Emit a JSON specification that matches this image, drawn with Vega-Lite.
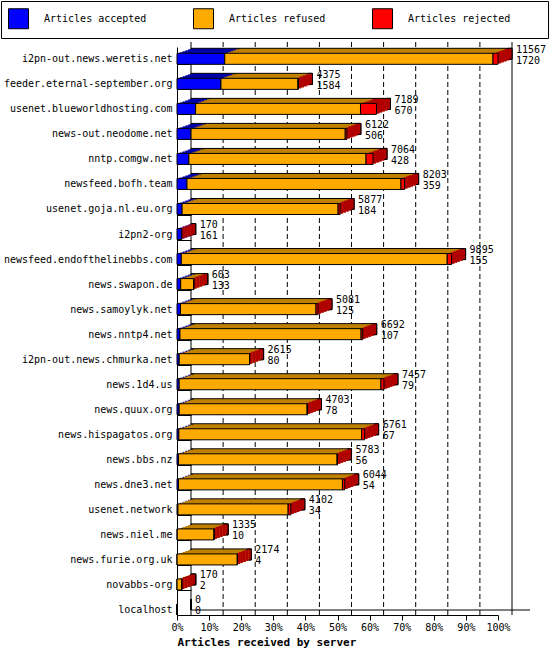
{
  "$schema": "https://vega.github.io/schema/vega-lite/v6.json",
  "autosize": {"type": "none"},
  "width": 321,
  "height": 568,
  "padding": {"left": 177, "top": 47, "right": 52, "bottom": 40},
  "background": "white",
  "datasets": {
    "articles": [
      {"server": "i2pn-out.news.weretis.net", "type": "Articles accepted", "count": 1720},
      {"server": "i2pn-out.news.weretis.net", "type": "Articles refused", "count": 9667},
      {"server": "i2pn-out.news.weretis.net", "type": "Articles rejected", "count": 180},
      {"server": "feeder.eternal-september.org", "type": "Articles accepted", "count": 1584},
      {"server": "feeder.eternal-september.org", "type": "Articles refused", "count": 2776},
      {"server": "feeder.eternal-september.org", "type": "Articles rejected", "count": 15},
      {"server": "usenet.blueworldhosting.com", "type": "Articles accepted", "count": 670},
      {"server": "usenet.blueworldhosting.com", "type": "Articles refused", "count": 5942},
      {"server": "usenet.blueworldhosting.com", "type": "Articles rejected", "count": 577},
      {"server": "news-out.neodome.net", "type": "Articles accepted", "count": 506},
      {"server": "news-out.neodome.net", "type": "Articles refused", "count": 5556},
      {"server": "news-out.neodome.net", "type": "Articles rejected", "count": 60},
      {"server": "nntp.comgw.net", "type": "Articles accepted", "count": 428},
      {"server": "nntp.comgw.net", "type": "Articles refused", "count": 6384},
      {"server": "nntp.comgw.net", "type": "Articles rejected", "count": 252},
      {"server": "newsfeed.bofh.team", "type": "Articles accepted", "count": 359},
      {"server": "newsfeed.bofh.team", "type": "Articles refused", "count": 7711},
      {"server": "newsfeed.bofh.team", "type": "Articles rejected", "count": 133},
      {"server": "usenet.goja.nl.eu.org", "type": "Articles accepted", "count": 184},
      {"server": "usenet.goja.nl.eu.org", "type": "Articles refused", "count": 5621},
      {"server": "usenet.goja.nl.eu.org", "type": "Articles rejected", "count": 72},
      {"server": "i2pn2-org", "type": "Articles accepted", "count": 161},
      {"server": "i2pn2-org", "type": "Articles refused", "count": 5},
      {"server": "i2pn2-org", "type": "Articles rejected", "count": 4},
      {"server": "newsfeed.endofthelinebbs.com", "type": "Articles accepted", "count": 155},
      {"server": "newsfeed.endofthelinebbs.com", "type": "Articles refused", "count": 9582},
      {"server": "newsfeed.endofthelinebbs.com", "type": "Articles rejected", "count": 158},
      {"server": "news.swapon.de", "type": "Articles accepted", "count": 133},
      {"server": "news.swapon.de", "type": "Articles refused", "count": 470},
      {"server": "news.swapon.de", "type": "Articles rejected", "count": 0},
      {"server": "news.samoylyk.net", "type": "Articles accepted", "count": 125},
      {"server": "news.samoylyk.net", "type": "Articles refused", "count": 4884},
      {"server": "news.samoylyk.net", "type": "Articles rejected", "count": 72},
      {"server": "news.nntp4.net", "type": "Articles accepted", "count": 107},
      {"server": "news.nntp4.net", "type": "Articles refused", "count": 6525},
      {"server": "news.nntp4.net", "type": "Articles rejected", "count": 60},
      {"server": "i2pn-out.news.chmurka.net", "type": "Articles accepted", "count": 80},
      {"server": "i2pn-out.news.chmurka.net", "type": "Articles refused", "count": 2535},
      {"server": "i2pn-out.news.chmurka.net", "type": "Articles rejected", "count": 0},
      {"server": "news.1d4.us", "type": "Articles accepted", "count": 79},
      {"server": "news.1d4.us", "type": "Articles refused", "count": 7270},
      {"server": "news.1d4.us", "type": "Articles rejected", "count": 108},
      {"server": "news.quux.org", "type": "Articles accepted", "count": 78},
      {"server": "news.quux.org", "type": "Articles refused", "count": 4610},
      {"server": "news.quux.org", "type": "Articles rejected", "count": 15},
      {"server": "news.hispagatos.org", "type": "Articles accepted", "count": 67},
      {"server": "news.hispagatos.org", "type": "Articles refused", "count": 6586},
      {"server": "news.hispagatos.org", "type": "Articles rejected", "count": 108},
      {"server": "news.bbs.nz", "type": "Articles accepted", "count": 56},
      {"server": "news.bbs.nz", "type": "Articles refused", "count": 5712},
      {"server": "news.bbs.nz", "type": "Articles rejected", "count": 15},
      {"server": "news.dne3.net", "type": "Articles accepted", "count": 54},
      {"server": "news.dne3.net", "type": "Articles refused", "count": 5907},
      {"server": "news.dne3.net", "type": "Articles rejected", "count": 83},
      {"server": "usenet.network", "type": "Articles accepted", "count": 34},
      {"server": "usenet.network", "type": "Articles refused", "count": 3971},
      {"server": "usenet.network", "type": "Articles rejected", "count": 97},
      {"server": "news.niel.me", "type": "Articles accepted", "count": 10},
      {"server": "news.niel.me", "type": "Articles refused", "count": 1325},
      {"server": "news.niel.me", "type": "Articles rejected", "count": 0},
      {"server": "news.furie.org.uk", "type": "Articles accepted", "count": 4},
      {"server": "news.furie.org.uk", "type": "Articles refused", "count": 2170},
      {"server": "news.furie.org.uk", "type": "Articles rejected", "count": 0},
      {"server": "novabbs-org", "type": "Articles accepted", "count": 2},
      {"server": "novabbs-org", "type": "Articles refused", "count": 168},
      {"server": "novabbs-org", "type": "Articles rejected", "count": 0},
      {"server": "localhost", "type": "Articles accepted", "count": 0},
      {"server": "localhost", "type": "Articles refused", "count": 0},
      {"server": "localhost", "type": "Articles rejected", "count": 0}
    ],
    "servers": [
      {"server": "i2pn-out.news.weretis.net", "total": 11567, "accepted": 1720},
      {"server": "feeder.eternal-september.org", "total": 4375, "accepted": 1584},
      {"server": "usenet.blueworldhosting.com", "total": 7189, "accepted": 670},
      {"server": "news-out.neodome.net", "total": 6122, "accepted": 506},
      {"server": "nntp.comgw.net", "total": 7064, "accepted": 428},
      {"server": "newsfeed.bofh.team", "total": 8203, "accepted": 359},
      {"server": "usenet.goja.nl.eu.org", "total": 5877, "accepted": 184},
      {"server": "i2pn2-org", "total": 170, "accepted": 161},
      {"server": "newsfeed.endofthelinebbs.com", "total": 9895, "accepted": 155},
      {"server": "news.swapon.de", "total": 603, "accepted": 133},
      {"server": "news.samoylyk.net", "total": 5081, "accepted": 125},
      {"server": "news.nntp4.net", "total": 6692, "accepted": 107},
      {"server": "i2pn-out.news.chmurka.net", "total": 2615, "accepted": 80},
      {"server": "news.1d4.us", "total": 7457, "accepted": 79},
      {"server": "news.quux.org", "total": 4703, "accepted": 78},
      {"server": "news.hispagatos.org", "total": 6761, "accepted": 67},
      {"server": "news.bbs.nz", "total": 5783, "accepted": 56},
      {"server": "news.dne3.net", "total": 6044, "accepted": 54},
      {"server": "usenet.network", "total": 4102, "accepted": 34},
      {"server": "news.niel.me", "total": 1335, "accepted": 10},
      {"server": "news.furie.org.uk", "total": 2174, "accepted": 4},
      {"server": "novabbs-org", "total": 170, "accepted": 2},
      {"server": "localhost", "total": 0, "accepted": 0}
    ]
  },
  "resolve": {"scale": {"color": "independent"}, "legend": {"color": "independent"}},
  "layer": [
    {
      "data": {"values": [{"v": 0}, {"v": 11567}]},
      "mark": {"type": "rule", "color": "black", "xOffset": 14, "yOffset": -5, "y2Offset": -5},
      "encoding": {"x": {"field": "v", "type": "quantitative", "title": "Articles received by server"}}
    },
    {
      "data": {"values": [{"v": 1156.7}, {"v": 2313.4}, {"v": 3470.1}, {"v": 4626.8}, {"v": 5783.5}, {"v": 6940.2}, {"v": 8096.9}, {"v": 9253.6}, {"v": 10410.3}]},
      "mark": {"type": "rule", "color": "black", "strokeDash": [5, 3], "xOffset": 14, "yOffset": -5, "y2Offset": -5},
      "encoding": {"x": {"field": "v", "type": "quantitative", "title": "Articles received by server"}}
    },
    {
      "data": {"name": "articles"},
      "mark": {"type": "bar", "stroke": "black", "strokeWidth": 1, "xOffset": 14, "x2Offset": 14, "yOffset": -5, "y2Offset": -5},
      "encoding": {
        "y": {"field": "server", "type": "nominal", "sort": null, "title": null},
        "x": {"field": "count", "type": "quantitative", "title": "Articles received by server"},
        "color": {"field": "type", "type": "nominal", "scale": {"domain": ["Articles accepted", "Articles refused", "Articles rejected"], "range": ["#0000a8", "#c08000", "#b00000"]}, "legend": null}
      }
    },
    {
      "data": {"name": "servers"},
      "transform": [{"filter": "datum.total > 0"}],
      "mark": {"type": "bar", "color": "#b00000", "stroke": "black", "strokeWidth": 1, "xOffset": 10, "x2Offset": 14, "yOffset": -5, "y2Offset": -5},
      "encoding": {
        "y": {"field": "server", "type": "nominal", "sort": null, "title": null},
        "x": {"field": "total", "type": "quantitative", "title": "Articles received by server"},
        "x2": {"field": "total"}
      }
    },
    {
      "data": {"name": "articles"},
      "mark": {"type": "bar", "xOffset": 11.2, "x2Offset": 11.2, "yOffset": -4, "y2Offset": -4},
      "encoding": {
        "y": {"field": "server", "type": "nominal", "sort": null, "title": null},
        "x": {"field": "count", "type": "quantitative", "title": "Articles received by server"},
        "color": {"field": "type", "type": "nominal", "scale": {"domain": ["Articles accepted", "Articles refused", "Articles rejected"], "range": ["#0000a8", "#c08000", "#b00000"]}, "legend": null}
      }
    },
    {
      "data": {"name": "servers"},
      "transform": [{"filter": "datum.total > 0"}],
      "mark": {"type": "bar", "color": "#b00000", "xOffset": 7.2, "x2Offset": 11.2, "yOffset": -4, "y2Offset": -4},
      "encoding": {
        "y": {"field": "server", "type": "nominal", "sort": null, "title": null},
        "x": {"field": "total", "type": "quantitative", "title": "Articles received by server"},
        "x2": {"field": "total"}
      }
    },
    {
      "data": {"name": "articles"},
      "mark": {"type": "bar", "xOffset": 8.4, "x2Offset": 8.4, "yOffset": -3, "y2Offset": -3},
      "encoding": {
        "y": {"field": "server", "type": "nominal", "sort": null, "title": null},
        "x": {"field": "count", "type": "quantitative", "title": "Articles received by server"},
        "color": {"field": "type", "type": "nominal", "scale": {"domain": ["Articles accepted", "Articles refused", "Articles rejected"], "range": ["#0000a8", "#c08000", "#b00000"]}, "legend": null}
      }
    },
    {
      "data": {"name": "servers"},
      "transform": [{"filter": "datum.total > 0"}],
      "mark": {"type": "bar", "color": "#b00000", "xOffset": 4.4, "x2Offset": 8.4, "yOffset": -3, "y2Offset": -3},
      "encoding": {
        "y": {"field": "server", "type": "nominal", "sort": null, "title": null},
        "x": {"field": "total", "type": "quantitative", "title": "Articles received by server"},
        "x2": {"field": "total"}
      }
    },
    {
      "data": {"name": "articles"},
      "mark": {"type": "bar", "xOffset": 5.6, "x2Offset": 5.6, "yOffset": -2, "y2Offset": -2},
      "encoding": {
        "y": {"field": "server", "type": "nominal", "sort": null, "title": null},
        "x": {"field": "count", "type": "quantitative", "title": "Articles received by server"},
        "color": {"field": "type", "type": "nominal", "scale": {"domain": ["Articles accepted", "Articles refused", "Articles rejected"], "range": ["#0000a8", "#c08000", "#b00000"]}, "legend": null}
      }
    },
    {
      "data": {"name": "servers"},
      "transform": [{"filter": "datum.total > 0"}],
      "mark": {"type": "bar", "color": "#b00000", "xOffset": 1.6, "x2Offset": 5.6, "yOffset": -2, "y2Offset": -2},
      "encoding": {
        "y": {"field": "server", "type": "nominal", "sort": null, "title": null},
        "x": {"field": "total", "type": "quantitative", "title": "Articles received by server"},
        "x2": {"field": "total"}
      }
    },
    {
      "data": {"name": "articles"},
      "mark": {"type": "bar", "xOffset": 2.8, "x2Offset": 2.8, "yOffset": -1, "y2Offset": -1},
      "encoding": {
        "y": {"field": "server", "type": "nominal", "sort": null, "title": null},
        "x": {"field": "count", "type": "quantitative", "title": "Articles received by server"},
        "color": {"field": "type", "type": "nominal", "scale": {"domain": ["Articles accepted", "Articles refused", "Articles rejected"], "range": ["#0000a8", "#c08000", "#b00000"]}, "legend": null}
      }
    },
    {
      "data": {"name": "servers"},
      "transform": [{"filter": "datum.total > 0"}],
      "mark": {"type": "bar", "color": "#b00000", "xOffset": 0, "x2Offset": 2.8, "yOffset": -1, "y2Offset": -1},
      "encoding": {
        "y": {"field": "server", "type": "nominal", "sort": null, "title": null},
        "x": {"field": "total", "type": "quantitative", "title": "Articles received by server"},
        "x2": {"field": "total"}
      }
    },
    {
      "data": {"name": "articles"},
      "mark": {"type": "bar", "stroke": "black", "strokeWidth": 1},
      "encoding": {
        "y": {
          "field": "server", "type": "nominal", "sort": null, "title": null,
          "scale": {"paddingInner": 0.56, "paddingOuter": 0.126, "align": 1},
          "axis": {"ticks": true, "tickSize": -14, "tickBand": "extent", "labelPadding": 19, "domain": true, "grid": false}
        },
        "x": {
          "field": "count", "type": "quantitative", "title": "Articles received by server",
          "scale": {"domain": [0, 11567], "nice": false, "zero": true},
          "axis": {
            "values": [0, 1156.7, 2313.4, 3470.1, 4626.8, 5783.5, 6940.2, 8096.9, 9253.6, 10410.3, 11567],
            "tickCount": 20,
            "labelExpr": "round(datum.value / 115.67) + '%'",
            "grid": false, "tickSize": 5, "labelPadding": 2, "labelFlush": false, "labelOverlap": false,
            "titleFontWeight": "bold", "titleFontSize": 11, "titleAnchor": "start", "titlePadding": 4
          }
        },
        "color": {
          "field": "type", "type": "nominal",
          "scale": {"domain": ["Articles accepted", "Articles refused", "Articles rejected"], "range": ["#0000ff", "#ffaa00", "#ff0000"]},
          "legend": {
            "orient": "none", "legendX": -176, "legendY": -46, "direction": "horizontal", "columns": 3,
            "title": "   ", "titleOrient": "right", "titlePadding": 31, "titleFont": "DejaVu Sans Mono", "titleFontSize": 10,
            "symbolType": "square", "symbolSize": 400, "symbolStrokeColor": "black",
            "symbolStrokeWidth": 1, "symbolOpacity": 1, "labelOffset": 15, "columnPadding": 44,
            "padding": 7, "strokeColor": "black", "fillColor": "white"
          }
        }
      }
    },
    {
      "data": {"name": "servers"},
      "mark": {"type": "text", "align": "left", "baseline": "middle", "xOffset": 18, "yOffset": -9, "font": "DejaVu Sans Mono", "fontSize": 10, "color": "black"},
      "encoding": {
        "y": {"field": "server", "type": "nominal", "sort": null, "title": null},
        "x": {"field": "total", "type": "quantitative", "title": "Articles received by server"},
        "text": {"field": "total", "type": "quantitative", "format": "d"}
      }
    },
    {
      "data": {"name": "servers"},
      "mark": {"type": "text", "align": "left", "baseline": "middle", "xOffset": 18, "yOffset": 2, "font": "DejaVu Sans Mono", "fontSize": 10, "color": "black"},
      "encoding": {
        "y": {"field": "server", "type": "nominal", "sort": null, "title": null},
        "x": {"field": "total", "type": "quantitative", "title": "Articles received by server"},
        "text": {"field": "accepted", "type": "quantitative", "format": "d"}
      }
    },
    {
      "data": {"values": [{"from": 0, "to": 11567, "server": "localhost"}]},
      "mark": {"type": "rule", "color": "black", "xOffset": 14, "x2Offset": 32, "yOffset": -5},
      "encoding": {
        "x": {"field": "from", "type": "quantitative", "title": "Articles received by server"},
        "x2": {"field": "to"},
        "y": {"field": "server", "type": "nominal", "sort": null, "title": null, "bandPosition": 1}
      }
    }
  ],
  "config": {
    "view": {"stroke": null},
    "axis": {
      "labelFont": "DejaVu Sans Mono", "labelFontSize": 10, "labelColor": "black",
      "domainColor": "black", "tickColor": "black",
      "titleFont": "DejaVu Sans Mono", "titleColor": "black"
    },
    "axisX": {"labelOverlap": false, "labelFlush": false},
    "legend": {"labelFont": "DejaVu Sans Mono", "labelFontSize": 10, "labelColor": "black"}
  }
}
